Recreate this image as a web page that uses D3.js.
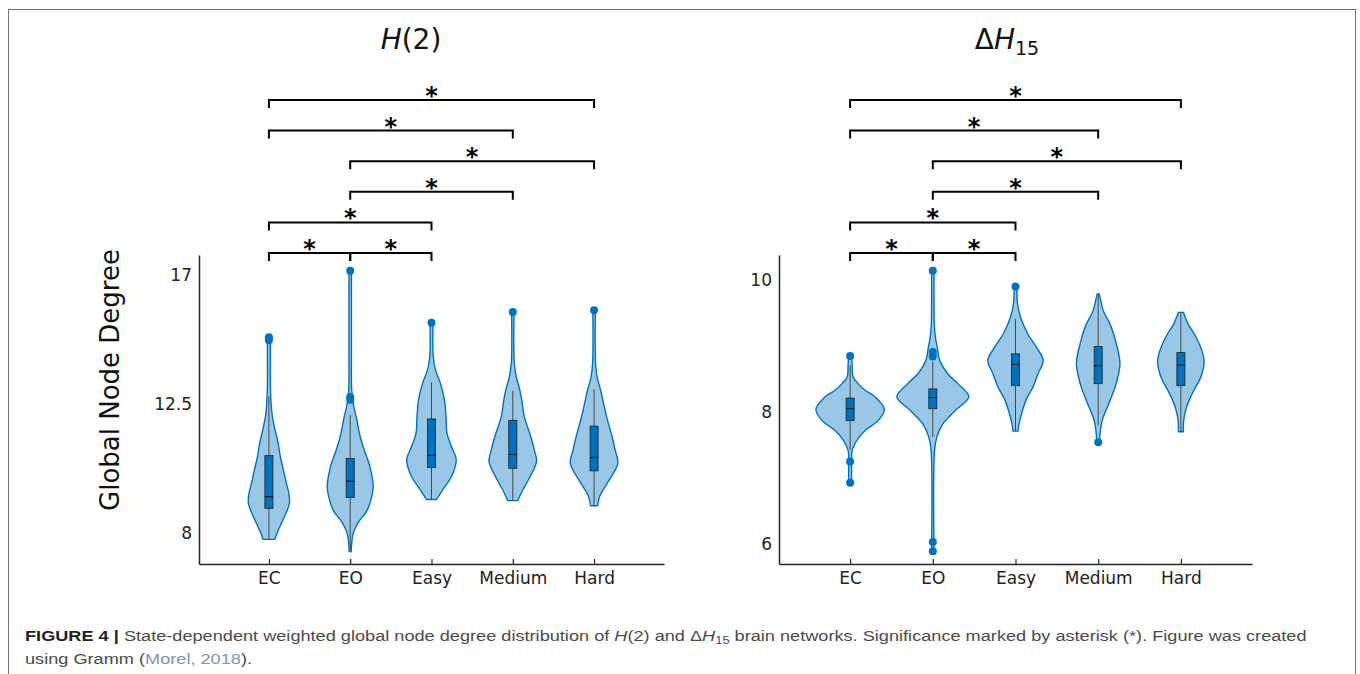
<!DOCTYPE html>
<html>
<head>
<meta charset="utf-8">
<title>Global Node Degree: H(2) and ΔH15</title>
<script src="https://cdn.jsdelivr.net/npm/d3@7/dist/d3.min.js"></script>
<style>
  body { margin: 0; background: #fff; }
  svg { display: block; }
  .tick text { font-family: "DejaVu Sans", Verdana, sans-serif; font-size: 17px; fill: #222; }
  .domain { stroke: #262626; stroke-width: 1.5; }
  .tick line { stroke: #262626; stroke-width: 1.2; }
</style>
</head>
<body>
<svg></svg>
<script>

var states = ["EC", "EO", "Easy", "Medium", "Hard"];

// ---- H(2) panel ----
var h2Ticks = [8, 12.5, 17];

// violin outlines: [degree, relative density]
var h2Violins = [
  [[7.78,0.24],[7.99,0.32],[8.34,0.50],[8.69,0.68],[9.03,0.82],[9.38,0.80],[9.73,0.70],[10.20,0.58],[10.66,0.46],[11.13,0.37],[11.59,0.25],[12.06,0.14],[12.64,0.08],[13.22,0.06],[14.38,0.06],[14.80,0.06]],
  [[7.35,0.04],[7.64,0.06],[7.99,0.12],[8.34,0.30],[8.80,0.68],[9.27,0.86],[9.62,0.92],[10.31,0.79],[10.90,0.56],[11.36,0.40],[12.06,0.24],[12.52,0.12],[12.99,0.06],[14.38,0.05],[17.15,0.05]],
  [[9.17,0.20],[9.50,0.44],[9.97,0.80],[10.55,0.99],[11.01,0.80],[11.48,0.62],[12.06,0.58],[12.64,0.52],[13.22,0.36],[13.69,0.16],[14.15,0.07],[15.34,0.06]],
  [[9.13,0.20],[9.50,0.40],[9.85,0.62],[10.49,0.95],[10.90,0.86],[11.36,0.72],[12.06,0.46],[12.64,0.36],[12.99,0.28],[13.45,0.14],[13.92,0.06],[15.71,0.05]],
  [[8.95,0.14],[9.27,0.22],[9.73,0.52],[10.43,0.95],[10.90,0.84],[11.36,0.72],[12.06,0.50],[12.99,0.26],[13.45,0.12],[13.92,0.06],[15.77,0.05]]
];
// [whisker low, q1, median, q3, whisker high]
var h2Boxes = [
  [7.78, 8.86, 9.27, 10.70, 12.76],
  [7.40, 9.24, 9.81, 10.60, 12.12],
  [9.17, 10.29, 10.71, 11.98, 13.26],
  [9.13, 10.26, 10.74, 11.93, 12.97],
  [8.95, 10.17, 10.64, 11.73, 13.01]
];
var h2Outliers = [
  [14.83, 14.73],
  [17.15, 12.75, 12.65],
  [15.34],
  [15.71],
  [15.77]
];

// ---- ΔH15 panel ----
var dhTicks = [6, 8, 10];
var dhViolins = [
  [[6.93,0.06],[7.22,0.06],[7.40,0.07],[7.47,0.13],[7.57,0.27],[7.72,0.60],[7.87,1.12],[8.04,1.37],[8.23,1.00],[8.33,0.60],[8.43,0.32],[8.53,0.12],[8.73,0.08],[8.85,0.06]],
  [[5.89,0.05],[7.42,0.07],[7.62,0.16],[7.82,0.40],[8.03,0.92],[8.23,1.44],[8.43,1.00],[8.58,0.60],[8.78,0.28],[8.98,0.18],[9.14,0.10],[9.34,0.06],[10.14,0.05]],
  [[7.71,0.10],[7.82,0.14],[7.97,0.24],[8.18,0.42],[8.38,0.70],[8.58,0.90],[8.78,1.11],[8.98,0.84],[9.19,0.48],[9.44,0.20],[9.64,0.08],[9.90,0.06]],
  [[7.54,0.05],[7.80,0.12],[7.92,0.20],[8.18,0.48],[8.43,0.72],[8.73,0.87],[9.04,0.72],[9.29,0.52],[9.54,0.20],[9.69,0.10],[9.79,0.04]],
  [[7.70,0.10],[7.87,0.11],[8.08,0.23],[8.33,0.52],[8.53,0.80],[8.76,0.93],[8.93,0.84],[9.14,0.60],[9.34,0.28],[9.51,0.10]]
];
var dhBoxes = [
  [7.43, 7.87, 8.05, 8.21, 8.71],
  [7.62, 8.05, 8.22, 8.35, 8.76],
  [7.71, 8.40, 8.72, 8.88, 9.41],
  [7.80, 8.43, 8.70, 8.99, 9.79],
  [7.70, 8.40, 8.71, 8.90, 9.51]
];
var dhOutliers = [
  [8.85, 7.25, 6.93],
  [10.14, 8.91, 8.84, 6.03, 5.89],
  [9.90],
  [7.54],
  []
];

// significant pairs (same in both panels), with bracket stacking level
var sigPairs = [["EC","Hard"], ["EC","Medium"], ["EO","Hard"], ["EO","Medium"], ["EC","Easy"], ["EC","EO"], ["EO","Easy"]];
var sigLevels = [5, 4, 3, 2, 1, 0, 0];

var width = 1360, height = 674;
var blue = "#0072BD";

var svg = d3.select("svg")
  .attr("width", width)
  .attr("height", height)
  .style("font-family", "'DejaVu Sans', Verdana, sans-serif");

// figure frame
svg.append("rect")
  .attr("x", 8.5).attr("y", 9.5)
  .attr("width", 1347).attr("height", 720)
  .attr("fill", "none")
  .attr("stroke", "#777")
  .attr("stroke-width", 1);

var panels = [
  { left: 199, right: 664, top: 255, bottom: 564, ylim: [6.92, 17.70], ticks: h2Ticks,
    violins: h2Violins, boxes: h2Boxes, outliers: h2Outliers, titleX: 411 },
  { left: 779, right: 1252, top: 255, bottom: 564, ylim: [5.697, 10.379], ticks: dhTicks,
    violins: dhViolins, boxes: dhBoxes, outliers: dhOutliers, titleX: 1007 }
];

panels.forEach(drawPanel);

function drawPanel(p, pi) {
  var x = d3.scalePoint().domain(states).range([p.left, p.right]).padding(0.86);
  var y = d3.scaleLinear().domain(p.ylim).range([p.bottom, p.top]);
  var w = d3.scaleLinear().domain([0, 1]).range([0, 25]);
  var boxHalf = 4;

  var g = svg.append("g");

  // violins
  g.append("g").selectAll("path")
    .data(p.violins)
    .join("path")
      .attr("d", function(d, i) {
        var cx = x(states[i]);
        return d3.area()
          .curve(d3.curveCatmullRom)
          .y(function(e) { return y(e[0]); })
          .x0(function(e) { return cx - w(e[1]); })
          .x1(function(e) { return cx + w(e[1]); })(d);
      })
      .attr("fill", blue)
      .attr("fill-opacity", 0.4)
      .attr("stroke", blue)
      .attr("stroke-width", 1.4)
      .attr("stroke-linejoin", "round");

  // whiskers
  g.append("g").selectAll("line")
    .data(p.boxes)
    .join("line")
      .attr("x1", function(d, i) { return x(states[i]); })
      .attr("x2", function(d, i) { return x(states[i]); })
      .attr("y1", function(d) { return y(d[0]); })
      .attr("y2", function(d) { return y(d[4]); })
      .attr("stroke", "#3a3a3a")
      .attr("stroke-width", 0.9);

  // boxes
  g.append("g").selectAll("rect")
    .data(p.boxes)
    .join("rect")
      .attr("x", function(d, i) { return x(states[i]) - boxHalf; })
      .attr("width", boxHalf * 2)
      .attr("y", function(d) { return y(d[3]); })
      .attr("height", function(d) { return y(d[1]) - y(d[3]); })
      .attr("fill", blue)
      .attr("stroke", "#1f2a33")
      .attr("stroke-width", 0.9);

  // medians
  g.append("g").selectAll("line")
    .data(p.boxes)
    .join("line")
      .attr("x1", function(d, i) { return x(states[i]) - boxHalf; })
      .attr("x2", function(d, i) { return x(states[i]) + boxHalf; })
      .attr("y1", function(d) { return y(d[2]); })
      .attr("y2", function(d) { return y(d[2]); })
      .attr("stroke", "#111")
      .attr("stroke-width", 1);

  // outliers
  var pts = [];
  p.outliers.forEach(function(arr, i) {
    arr.forEach(function(v) { pts.push({ s: states[i], v: v }); });
  });
  g.append("g").selectAll("circle")
    .data(pts)
    .join("circle")
      .attr("cx", function(d) { return x(d.s); })
      .attr("cy", function(d) { return y(d.v); })
      .attr("r", 4)
      .attr("fill", blue);

  // axes
  g.append("g")
    .attr("transform", "translate(" + p.left + ",0)")
    .call(d3.axisLeft(y).tickValues(p.ticks).tickSize(0).tickPadding(7).tickFormat(d3.format("")));

  g.append("g")
    .attr("transform", "translate(0," + p.bottom + ")")
    .call(d3.axisBottom(x).tickSizeInner(-5).tickSizeOuter(0).tickPadding(8));

  // significance brackets
  var lvl = d3.scaleLinear().domain([0, 5]).range([253, 100]);
  var br = g.append("g");
  sigPairs.forEach(function(pair, i) {
    var xa = x(pair[0]), xb = x(pair[1]), yb = lvl(sigLevels[i]);
    br.append("path")
      .attr("d", "M" + xa + "," + (yb + 8) + "V" + yb + "H" + xb + "V" + (yb + 8))
      .attr("fill", "none")
      .attr("stroke", "#000")
      .attr("stroke-width", 2);
    br.append("text")
      .attr("x", (xa + xb) / 2)
      .attr("y", yb + 4)
      .attr("text-anchor", "middle")
      .style("font-size", "24px")
      .style("font-weight", "bold")
      .text("*");
  });

  // title
  var t = g.append("text")
    .attr("x", p.titleX)
    .attr("y", 49)
    .attr("text-anchor", "middle")
    .style("font-size", "28px")
    .attr("fill", "#111");
  if (pi === 0) {
    t.append("tspan").style("font-style", "italic").text("H");
    t.append("tspan").text("(2)");
  } else {
    t.append("tspan").text("Δ");
    t.append("tspan").style("font-style", "italic").text("H");
    t.append("tspan").attr("dy", 6).style("font-size", "19px").text("15");
  }
}

// y axis label
svg.append("text")
  .attr("transform", "translate(110,380) rotate(-90)")
  .attr("text-anchor", "middle")
  .attr("dy", "0.35em")
  .style("font-size", "26px")
  .attr("fill", "#111")
  .text("Global Node Degree");

// caption
var capFont = "'Liberation Sans', Arial, sans-serif";
var cap1 = svg.append("text")
  .style("font-family", capFont)
  .style("font-size", "15.5px")
  .attr("fill", "#4a4a4a");
cap1.append("tspan").style("font-weight", "bold").attr("fill", "#222").text("FIGURE 4 | ");
cap1.append("tspan").text("State-dependent weighted global node degree distribution of ");
cap1.append("tspan").style("font-style", "italic").text("H");
cap1.append("tspan").text("(2) and Δ");
cap1.append("tspan").style("font-style", "italic").text("H");
cap1.append("tspan").attr("dy", 3).style("font-size", "11px").text("15");
cap1.append("tspan").attr("dy", -3).text(" brain networks. Significance marked by asterisk (*). Figure was created");

var cap2 = svg.append("text")
  .style("font-family", capFont)
  .style("font-size", "15.5px")
  .attr("fill", "#4a4a4a");
cap2.append("tspan").text("using Gramm (");
cap2.append("tspan").attr("fill", "#8094ad").text("Morel, 2018");
cap2.append("tspan").text(").");

var k = 1282 / cap1.node().getComputedTextLength();
cap1.attr("transform", "translate(25,641) scale(" + k + ",1)");
cap2.attr("transform", "translate(25,664) scale(" + k + ",1)");

</script>
</body>
</html>
